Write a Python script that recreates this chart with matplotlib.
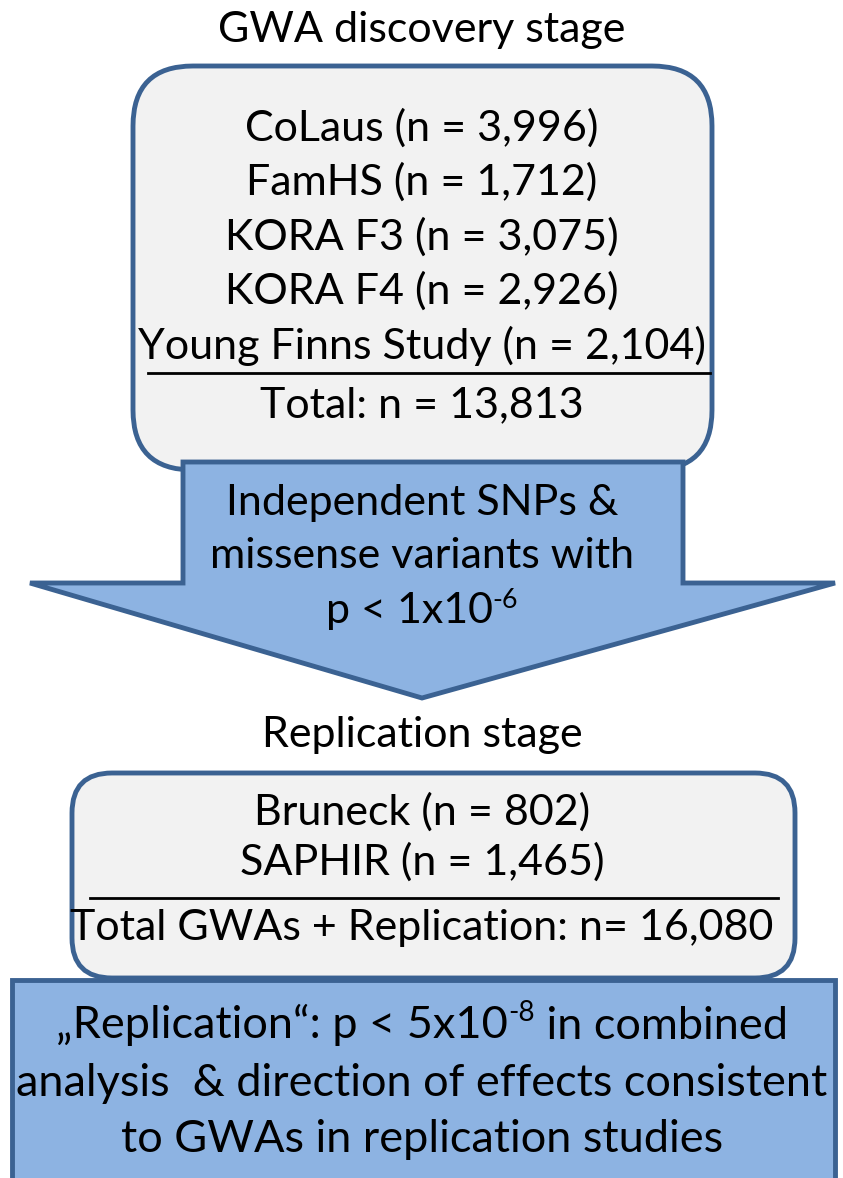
import matplotlib
matplotlib.use("Agg")
import matplotlib.pyplot as plt
from matplotlib.patches import FancyBboxPatch, Polygon, Rectangle

plt.rcParams['font.family'] = ['Lato', 'DejaVu Sans']

W, H = 843, 1178
edge = '#3b6292'
box_fill = '#f2f2f2'
blue_fill = '#8db3e2'
fs = 31

stage1_title = "GWA discovery stage"
stage1_lines = ["CoLaus (n = 3,996)", "FamHS (n = 1,712)", "KORA F3 (n = 3,075)",
                "KORA F4 (n = 2,926)", "Young Finns Study (n = 2,104)"]
stage1_total = "Total: n = 13,813"
arrow_lines = ["Independent SNPs &", "missense variants with"]
arrow_p = ("p < 1x10", "-6", "")
stage2_title = "Replication stage"
stage2_lines = ["Bruneck (n = 802)", "SAPHIR (n = 1,465)"]
stage2_total = "Total GWAs + Replication: n= 16,080"
final_p = ("„Replication“: p < 5x10", "-8", " in combined")
final_lines = ["analysis  & direction of effects consistent",
               "to GWAs in replication studies"]

fig = plt.figure(figsize=(W / 100, H / 100), dpi=100)
ax = fig.add_axes([0, 0, 1, 1])
ax.set_xlim(0, W)
ax.set_ylim(H, 0)
ax.axis('off')

cx = 422


def sup_line(x, y, parts, size):
    # base text, small raised exponent, then the rest of the line
    base, sup, rest = parts
    t1 = ax.text(x, y, base, ha='left', va='center', fontsize=size, zorder=5)
    t2 = ax.annotate(sup, xy=(1, 0.78), xycoords=t1, ha='left', va='center',
                     fontsize=size * 0.62, zorder=5)
    t3 = ax.annotate(rest, xy=(1, 0.5), xycoords=t2, ha='left', va='center',
                     fontsize=size, zorder=5)
    t3.set_y(0)
    fig.canvas.draw()
    r = fig.canvas.get_renderer()
    b1 = t1.get_window_extent(r)
    b3 = t3.get_window_extent(r) if rest else t2.get_window_extent(r)
    width = b3.x1 - b1.x0
    t1.set_x(x - width / 2)
    return t1


# top box
ax.add_patch(FancyBboxPatch((133 + 60, 66 + 60), 579 - 120, 404 - 120,
                            boxstyle="round,pad=60", fc=box_fill, ec=edge, lw=3.5, zorder=2))
ax.text(cx, 30, stage1_title, ha='center', va='center', fontsize=fs)
y0, dy = 128, 54.5
for i, s in enumerate(stage1_lines):
    ax.text(cx, y0 + i * dy, s, ha='center', va='center', fontsize=fs, zorder=5)
ax.plot([148, 710], [373, 373], color='black', lw=2, zorder=5)
ax.text(cx, 405, stage1_total, ha='center', va='center', fontsize=fs, zorder=5)

# arrow
arrow_pts = [(183, 462), (683, 462), (683, 583), (835, 583), (422, 698),
             (30, 583), (183, 583)]
ax.add_patch(Polygon(arrow_pts, closed=True, fc=blue_fill, ec=edge, lw=3.5,
                     joinstyle='miter', zorder=3))
for i, s in enumerate(arrow_lines):
    ax.text(cx, 503 + i * 53, s, ha='center', va='center', fontsize=fs, zorder=5)
sup_line(cx, 611, arrow_p, fs)

# replication box
ax.text(cx, 735, stage2_title, ha='center', va='center', fontsize=fs)
ax.add_patch(FancyBboxPatch((72 + 40, 773 + 40), 723 - 80, 205 - 80,
                            boxstyle="round,pad=40", fc=box_fill, ec=edge, lw=3.5, zorder=2))
for i, s in enumerate(stage2_lines):
    ax.text(cx, 812 + i * 50, s, ha='center', va='center', fontsize=fs, zorder=5)
ax.plot([90, 778], [898, 898], color='black', lw=2, zorder=5)
ax.text(cx, 928, stage2_total, ha='center', va='center', fontsize=fs, zorder=5)

# final box
ax.add_patch(Rectangle((12, 980), 823, 210, fc=blue_fill, ec=edge, lw=3.5, zorder=3))
fs2 = 32.5
sup_line(cx, 1025, final_p, fs2)
for i, s in enumerate(final_lines):
    ax.text(cx, 1083 + i * 57, s, ha='center', va='center', fontsize=fs2, zorder=5)

fig.savefig("out.png", dpi=100)
